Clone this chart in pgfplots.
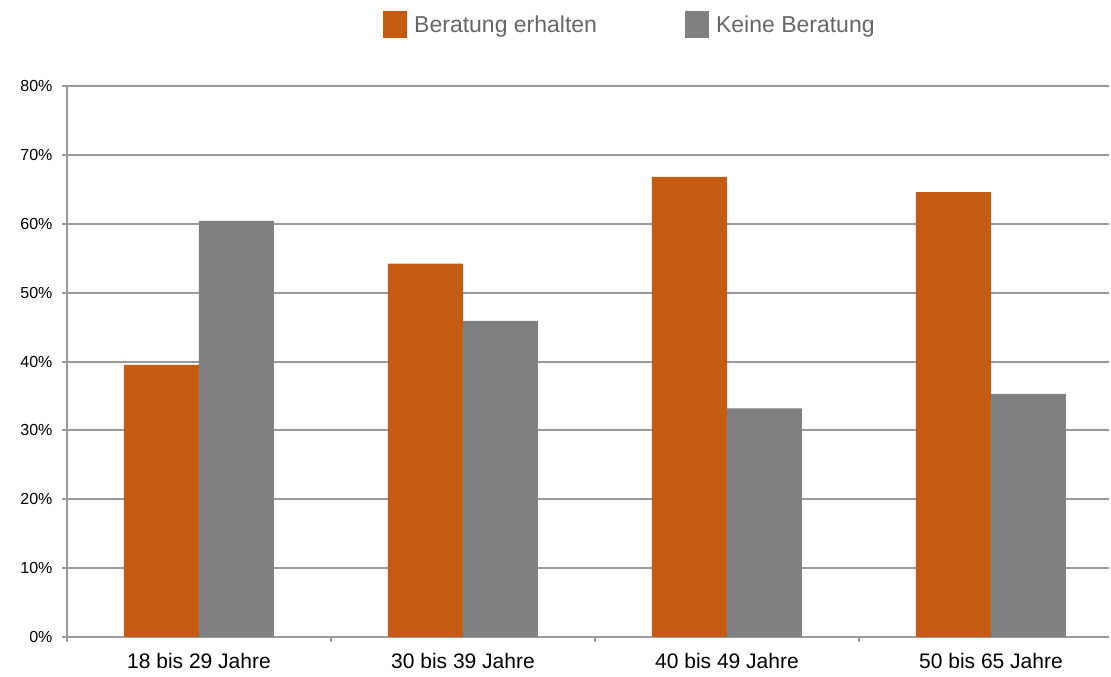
\documentclass[border=0pt]{standalone}
\usepackage{fontspec}
\setmainfont{Liberation Sans}
\usepackage{pgfplots}
\pgfplotsset{compat=1.18}
\definecolor{orng}{HTML}{C55A11}
\definecolor{gry}{HTML}{808080}
\definecolor{gridc}{HTML}{999999}
\definecolor{legtxt}{HTML}{666666}
\begin{document}
\begin{tikzpicture}[x=1pt,y=1pt]
\useasboundingbox (0,0) rectangle (1111,677);
\begin{axis}[
  at={(67pt,40pt)}, anchor=south west,
  scale only axis, width=1042pt, height=551pt,
  xmin=-0.5, xmax=3.447, ymin=0, ymax=80,
  ybar, bar width=75pt,
  axis x line=bottom, axis y line=left,
  axis line style={gridc, line width=2pt, -},
  /pgf/number format/assume math mode=true,
  ytick={0,10,...,80},
  yticklabel={\pgfmathprintnumber{\tick}\%},
  yticklabel style={font=\fontsize{16}{16}\selectfont, xshift=-6pt},
  ymajorgrids, grid style={gridc, line width=2pt},
  xtick={-0.5,0.5,1.5,2.5}, xticklabels={},
  extra x ticks={0,1,2,3},
  extra x tick labels={18 bis 29 Jahre,30 bis 39 Jahre,40 bis 49 Jahre,50 bis 65 Jahre},
  extra x tick style={major tick length=0pt, grid=none, xticklabel style={font=\fontsize{21}{21}\selectfont, yshift=-13pt}},
  tick style={gridc, line width=2pt}, major tick length=5pt, tick align=outside,
  legend columns=2,
  legend style={at={(0.3033,1.1125)}, anchor=west, draw=none, fill=none, inner sep=0pt,
    font=\fontsize{23}{23}\selectfont, text=legtxt,
    /tikz/every even column/.append style={column sep=86pt}},
  legend image code/.code={\path[#1,draw=none] (0pt,-13pt) rectangle (24pt,14pt); \path (29pt,0pt);},
]
\addplot[fill=orng, draw=none, bar shift=-37.5pt] coordinates {(0,39.5) (1,54.2) (2,66.8) (3,64.6)};
\addplot[fill=gry, draw=none, bar shift=37.5pt] coordinates {(0,60.4) (1,45.9) (2,33.2) (3,35.3)};
\legend{Beratung erhalten, Keine Beratung}
\end{axis}
\end{tikzpicture}
\end{document}
